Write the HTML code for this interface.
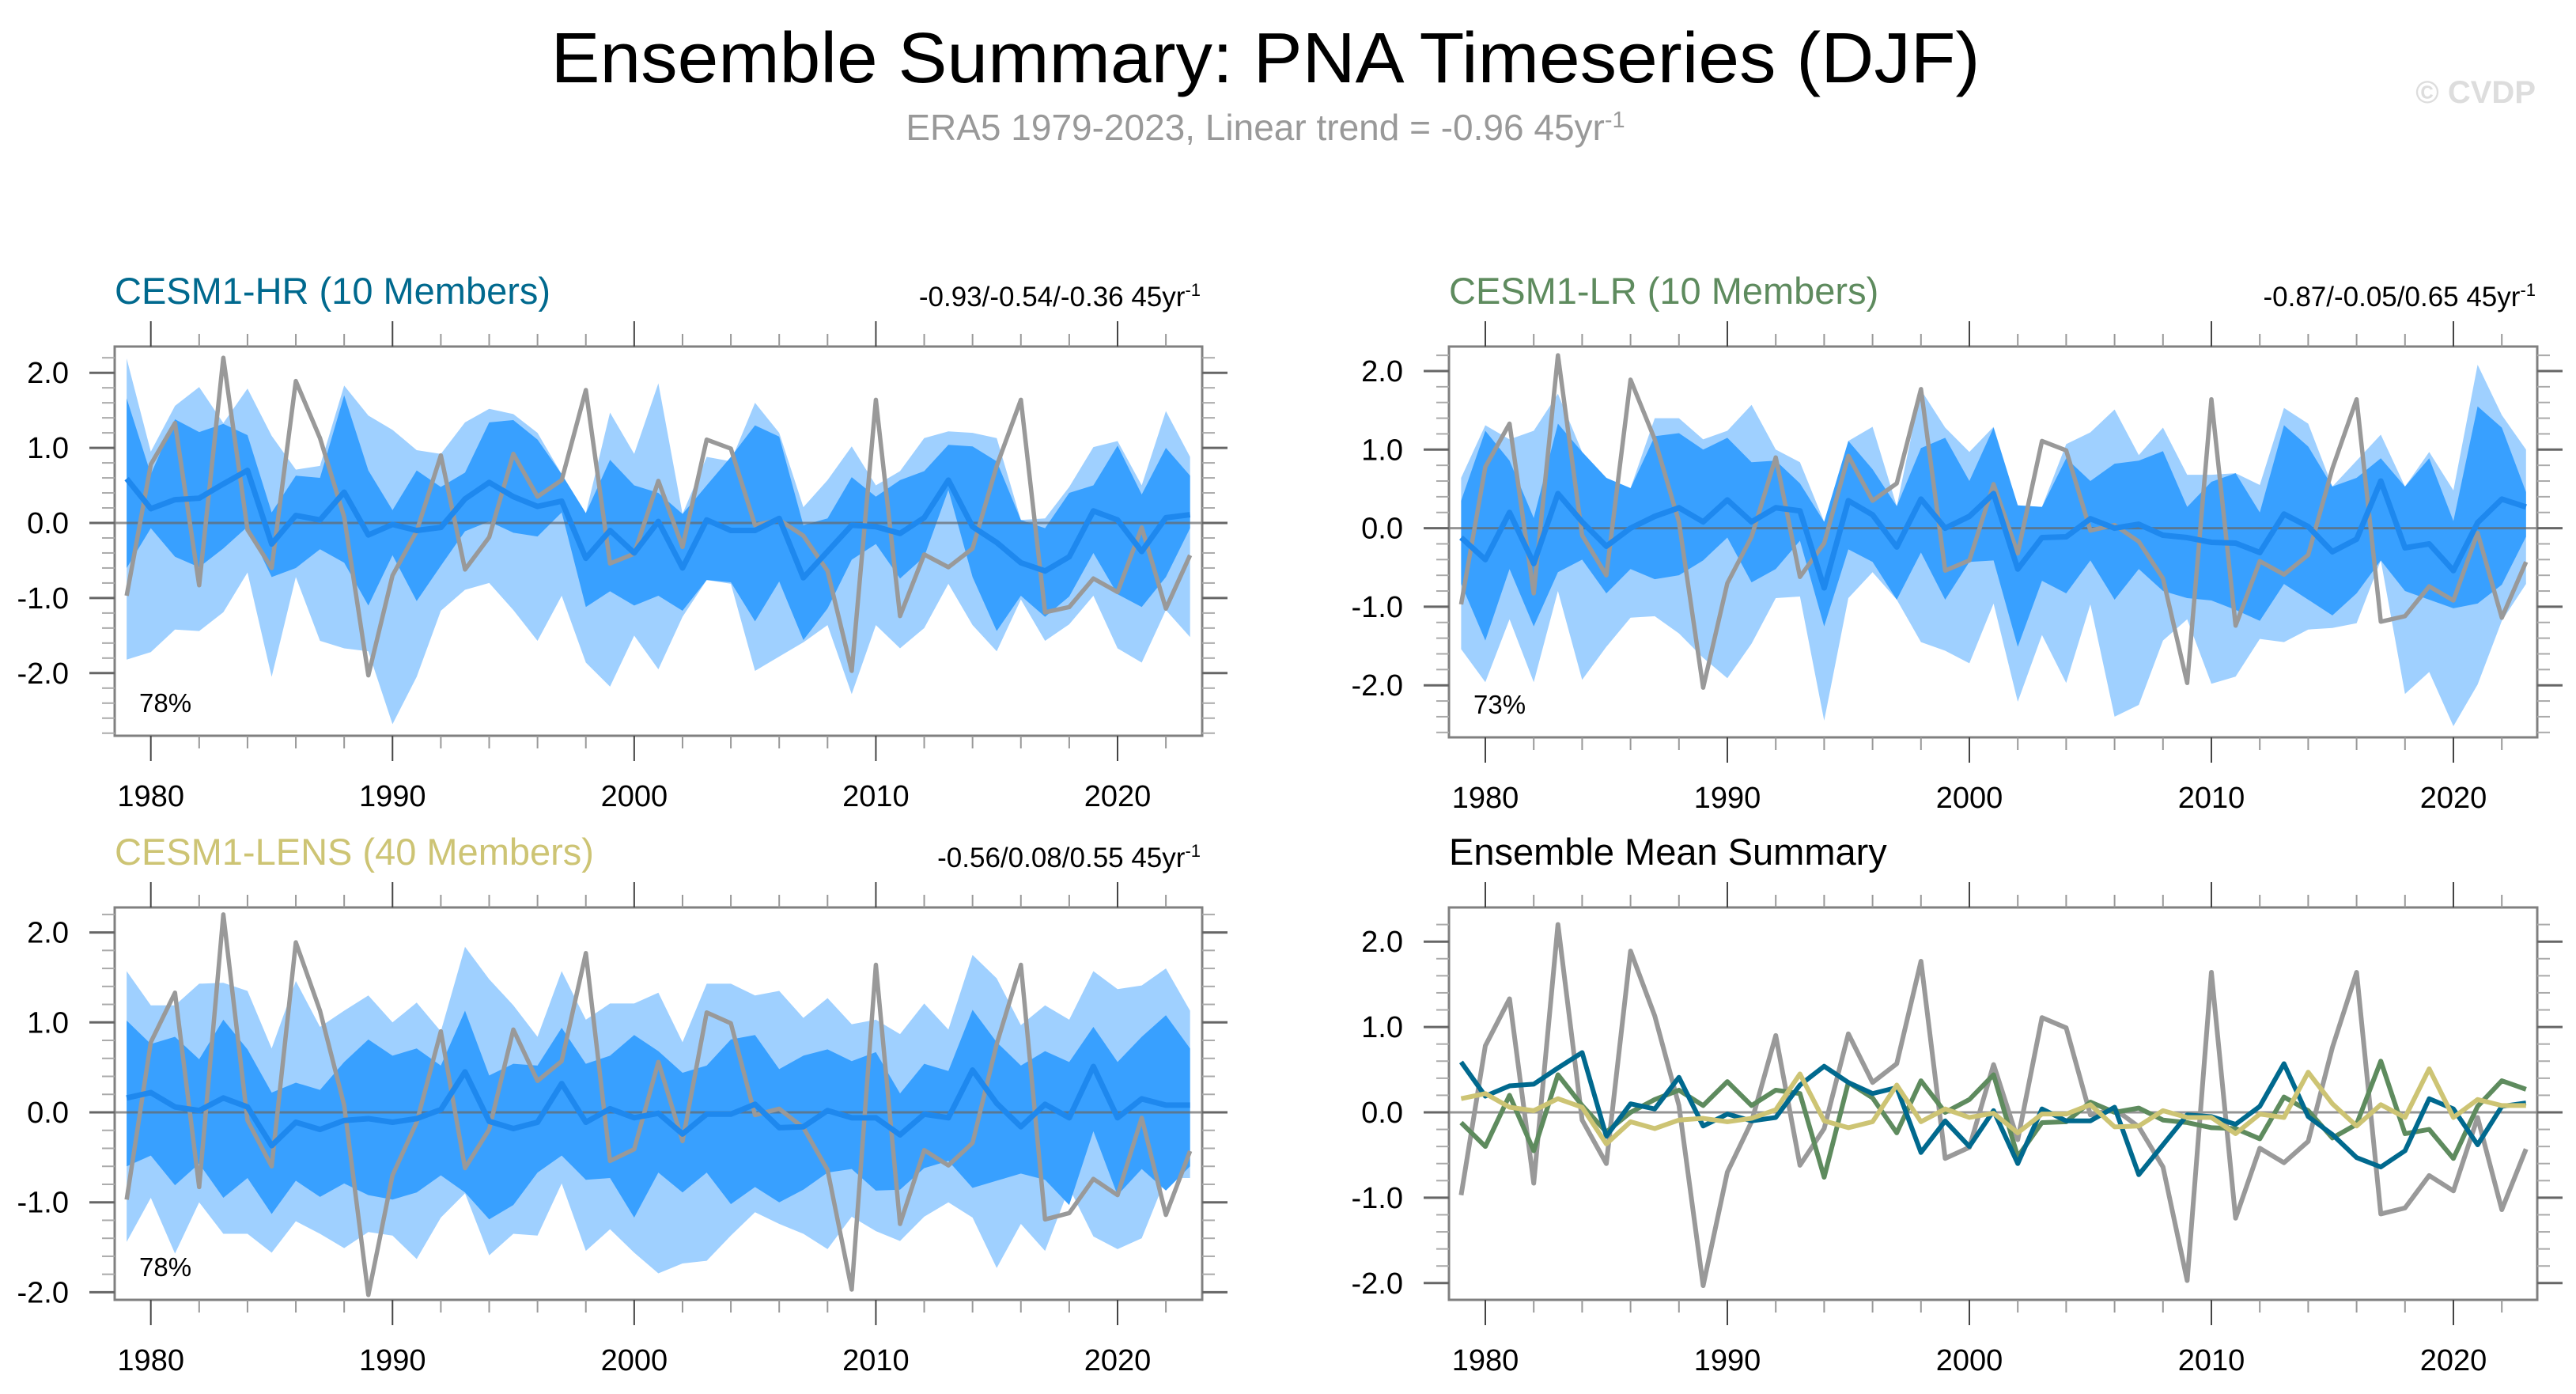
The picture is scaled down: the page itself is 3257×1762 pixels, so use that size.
<!DOCTYPE html>
<html><head><meta charset="utf-8"><style>
html,body{margin:0;padding:0;background:#fff;}
svg{display:block;font-family:"Liberation Sans",Arial,sans-serif;}
</style></head><body>
<svg id="chart" width="3257" height="1762" viewBox="0 0 3257 1762" xmlns="http://www.w3.org/2000/svg">
<rect width="3257" height="1762" fill="#fff"/>
<text x="1600" y="104" font-size="90" text-anchor="middle" textLength="1807" lengthAdjust="spacingAndGlyphs" fill="#000">Ensemble Summary: PNA Timeseries (DJF)</text>
<text x="1600" y="177" font-size="46" text-anchor="middle" fill="#999">ERA5 1979-2023, Linear trend = -0.96 45yr<tspan dy="-16" font-size="29">-1</tspan></text>
<text x="3206" y="130" font-size="40" font-weight="bold" text-anchor="end" fill="#ddd">© CVDP</text>
<g id="panels"></g>
</svg>
<script>
const years = [];
for (let y = 1979; y <= 2023; y++) years.push(y);
const era5 = [-0.97,0.78,1.33,-0.83,2.20,-0.09,-0.60,1.89,1.13,0.08,-2.03,-0.70,-0.11,0.90,-0.62,-0.19,0.92,0.35,0.57,1.77,-0.54,-0.41,0.56,-0.32,1.11,0.99,-0.03,0.04,-0.17,-0.64,-1.97,1.64,-1.24,-0.42,-0.59,-0.34,0.76,1.64,-1.19,-1.12,-0.74,-0.92,-0.06,-1.14,-0.43];
const hrMean = [0.59,0.19,0.31,0.33,0.52,0.70,-0.28,0.10,0.04,0.41,-0.16,-0.02,-0.10,-0.06,0.32,0.54,0.35,0.22,0.29,-0.47,-0.10,-0.40,0.02,-0.60,0.04,-0.10,-0.10,0.06,-0.73,-0.38,-0.03,-0.05,-0.14,0.07,0.57,-0.05,-0.26,-0.53,-0.64,-0.45,0.16,0.04,-0.38,0.07,0.11];
const hrDarkHi = [1.66,0.65,1.38,1.21,1.32,1.17,0.14,0.63,0.60,1.70,0.70,0.17,0.70,0.48,0.67,1.34,1.37,1.11,0.65,0.13,0.84,0.50,0.40,0.12,0.50,0.88,1.30,1.15,-0.03,0.06,0.61,0.35,0.57,0.69,1.04,1.02,0.82,0.04,-0.07,0.40,0.50,1.03,0.38,1.00,0.63];
const hrDarkLo = [-0.60,-0.07,-0.45,-0.59,-0.34,-0.05,-0.72,-0.60,-0.35,-0.53,-1.10,-0.43,-1.04,-0.57,-0.11,0.02,-0.13,-0.18,0.14,-1.12,-0.91,-1.10,-0.97,-1.17,-0.76,-0.79,-1.31,-0.78,-1.56,-1.14,-0.49,-0.28,-0.74,-0.45,0.44,-0.72,-1.44,-0.97,-1.25,-0.98,-0.40,-0.95,-1.12,-0.72,-0.07];
const hrLightHi = [2.19,0.95,1.56,1.81,1.33,1.79,1.16,0.71,0.76,1.83,1.43,1.24,0.97,0.92,1.34,1.52,1.45,1.20,0.65,0.13,1.47,0.92,1.86,0.12,0.88,0.82,1.60,1.20,0.21,0.57,1.02,0.50,0.69,1.13,1.22,1.20,1.13,0.04,0.06,0.48,1.01,1.09,0.50,1.49,0.88];
const hrLightLo = [-1.82,-1.72,-1.42,-1.44,-1.19,-0.66,-2.05,-0.72,-1.57,-1.67,-1.71,-2.68,-2.05,-1.17,-0.89,-0.80,-1.16,-1.57,-0.97,-1.86,-2.18,-1.50,-1.95,-1.25,-0.76,-0.81,-1.97,-1.78,-1.59,-1.36,-2.28,-1.36,-1.67,-1.40,-0.81,-1.36,-1.71,-1.02,-1.57,-1.35,-0.97,-1.67,-1.86,-1.16,-1.52];
const lrMean = [-0.12,-0.40,0.20,-0.45,0.44,0.08,-0.23,0.00,0.15,0.26,0.08,0.36,0.08,0.26,0.22,-0.76,0.35,0.17,-0.24,0.37,0.00,0.15,0.44,-0.52,-0.12,-0.11,0.12,0.00,0.05,-0.09,-0.12,-0.18,-0.19,-0.31,0.18,0.02,-0.30,-0.14,0.60,-0.25,-0.20,-0.54,0.07,0.37,0.27];
const lrDarkHi = [0.35,1.24,0.86,0.13,1.33,0.97,0.64,0.51,1.17,1.21,1.00,1.15,0.84,0.86,0.57,0.08,1.11,0.75,0.28,1.02,1.15,0.60,1.28,0.29,0.27,0.89,0.60,0.82,0.86,0.98,0.27,0.59,0.70,0.20,1.31,1.04,0.53,0.64,0.89,0.53,0.89,0.09,1.55,1.28,0.46];
const lrDarkLo = [-0.71,-1.43,-0.52,-1.25,-0.56,-0.40,-0.83,-0.52,-0.65,-0.60,-0.41,-0.12,-0.69,-0.52,-0.16,-1.25,-0.27,-0.43,-0.91,-0.31,-0.91,-0.43,-0.41,-1.51,-0.67,-0.83,-0.41,-0.91,-0.52,-0.80,-0.89,-0.92,-1.04,-1.18,-0.71,-0.91,-1.11,-0.83,-0.41,-0.80,-0.91,-1.02,-0.96,-0.72,-0.11];
const lrLightHi = [0.64,1.31,1.13,1.24,1.71,0.97,0.64,0.51,1.40,1.40,1.13,1.24,1.57,1.00,0.84,0.08,1.11,1.29,0.28,1.76,1.28,0.97,1.29,0.29,0.27,1.07,1.22,1.51,0.93,1.28,0.68,0.68,0.70,0.55,1.53,1.33,0.53,0.86,1.19,0.53,0.97,0.48,2.08,1.44,1.00];
const lrLightLo = [-1.54,-1.96,-1.16,-1.96,-0.80,-1.93,-1.51,-1.14,-1.12,-1.34,-1.65,-1.91,-1.47,-0.89,-0.87,-2.45,-0.89,-0.56,-0.91,-1.45,-1.56,-1.72,-0.96,-2.21,-1.36,-1.97,-0.97,-2.40,-2.25,-1.43,-1.16,-1.98,-1.89,-1.41,-1.45,-1.29,-1.27,-1.21,-0.41,-2.11,-1.83,-2.52,-1.99,-1.18,-0.71];
const lensMean = [0.16,0.22,0.06,0.02,0.16,0.06,-0.37,-0.11,-0.19,-0.09,-0.07,-0.11,-0.07,0.03,0.45,-0.10,-0.18,-0.11,0.32,-0.11,0.04,-0.06,-0.01,-0.24,-0.02,-0.02,0.09,-0.17,-0.16,0.02,-0.06,-0.06,-0.25,-0.02,-0.06,0.47,0.10,-0.16,0.09,-0.06,0.51,-0.06,0.15,0.08,0.08];
const lensDarkHi = [1.02,0.76,0.84,0.59,1.03,0.70,0.22,0.33,0.25,0.56,0.81,0.63,0.71,0.52,1.13,0.41,0.54,0.52,0.94,0.54,0.63,0.86,0.68,0.44,0.52,0.81,0.86,0.48,0.63,0.70,0.57,0.67,0.21,0.54,0.46,1.14,0.78,0.52,0.68,0.56,0.95,0.56,0.84,1.08,0.71];
const lensDarkLo = [-0.60,-0.48,-0.81,-0.57,-0.95,-0.73,-1.13,-0.76,-0.94,-0.79,-0.92,-0.97,-0.89,-0.70,-0.89,-1.19,-1.03,-0.67,-0.48,-0.75,-0.73,-1.17,-0.67,-0.89,-0.67,-1.02,-0.83,-1.00,-0.86,-0.67,-0.63,-0.87,-0.86,-0.62,-0.54,-0.84,-0.76,-0.68,-0.75,-1.03,-0.21,-0.92,-0.63,-0.87,-0.60];
const lensLightHi = [1.57,1.19,1.19,1.43,1.44,1.35,0.71,1.46,0.95,1.13,1.30,1.00,1.22,0.90,1.84,1.48,1.19,0.84,1.57,1.03,1.21,1.21,1.33,0.78,1.43,1.43,1.30,1.35,1.05,1.27,0.98,1.03,0.87,1.21,0.92,1.75,1.49,0.97,1.19,1.03,1.57,1.37,1.41,1.60,1.13];
const lensLightLo = [-1.44,-0.95,-1.57,-1.00,-1.35,-1.35,-1.56,-1.21,-1.35,-1.51,-1.33,-1.37,-1.63,-1.17,-0.90,-1.59,-1.35,-1.37,-0.79,-1.54,-1.30,-1.56,-1.79,-1.68,-1.65,-1.37,-1.11,-1.24,-1.35,-1.52,-1.16,-1.32,-1.43,-1.16,-1.00,-1.17,-1.73,-1.24,-1.54,-0.84,-1.38,-1.52,-1.40,-0.73,-0.73];
const xTickLabels = ["1980","1990","2000","2010","2020"];
const yTickLabels = ["2.0","1.0","0.0","-1.0","-2.0"];

const NS = "http://www.w3.org/2000/svg";
const root = document.getElementById("panels");
function mk(tag, attrs, parent) {
  const e = document.createElementNS(NS, tag);
  for (const k in attrs) e.setAttribute(k, attrs[k]);
  (parent || root).appendChild(e);
  return e;
}
const panelDefs = [
  {key:"hr", bx0:145, bx1:1520, by0:438, by1:930, x1980:190.7, x2020:1413, y0:661, unit:94.9,
   title:"CESM1-HR (10 Members)", color:"#00698e", trend:"-0.93/-0.54/-0.36 45yr", pct:"78%",
   bands:[hrLightLo,hrLightHi,hrDarkLo,hrDarkHi], mean:hrMean},
  {key:"lr", bx0:1832, bx1:3208, by0:438, by1:932, x1980:1878, x2020:3102, y0:667.6, unit:99.3,
   title:"CESM1-LR (10 Members)", color:"#5e8b5e", trend:"-0.87/-0.05/0.65 45yr", pct:"73%",
   bands:[lrLightLo,lrLightHi,lrDarkLo,lrDarkHi], mean:lrMean},
  {key:"lens", bx0:145, bx1:1520, by0:1147, by1:1643, x1980:190.7, x2020:1413, y0:1406, unit:113.7,
   title:"CESM1-LENS (40 Members)", color:"#cdc474", trend:"-0.56/0.08/0.55 45yr", pct:"78%",
   bands:[lensLightLo,lensLightHi,lensDarkLo,lensDarkHi], mean:lensMean},
  {key:"summary", bx0:1832, bx1:3208, by0:1147, by1:1643, x1980:1878, x2020:3102, y0:1406, unit:107.9,
   title:"Ensemble Mean Summary", color:"#000", trend:null, pct:null, bands:null, mean:null}
];

panelDefs.forEach(p => {
  const g = mk("g", {});
  
  
  const xs = yr => p.x1980 + (yr - 1980) * (p.x2020 - p.x1980) / 40;
  const ys = v => p.y0 - v * p.unit;
  const clipId = "clip-" + p.key;
  const cp = mk("clipPath", {id: clipId}, g);
  mk("rect", {x:p.bx0, y:p.by0, width:p.bx1-p.bx0, height:p.by1-p.by0}, cp);
  const plot = mk("g", {"clip-path":"url(#"+clipId+")"}, g);

  const t = mk("text", {x:p.bx0, y:p.by0-54, "font-size":47, fill:p.color}, g);
  
  
  t.textContent = p.title;
  if (p.trend) {
    const tr = mk("text", {x:p.bx1-2, y:p.by0-51, "font-size":35, "text-anchor":"end", fill:"#000"}, g);
    
    
    tr.textContent = p.trend;
    const sup = mk("tspan", {dy:-13, "font-size":22}, tr);
    sup.textContent = "-1";
  }
  const poly = (lo, hi) => {
    const pts = [];
    years.forEach((y,i) => pts.push(xs(y)+","+ys(hi[i])));
    for (let i = years.length-1; i >= 0; i--) pts.push(xs(years[i])+","+ys(lo[i]));
    return pts.join(" ");
  };
  const line = arr => years.map((y,i) => xs(y)+","+ys(arr[i])).join(" ");
  if (p.bands) {
    const lb = mk("polygon", {points:poly(p.bands[0],p.bands[1]), fill:"#9fd0ff"}, plot);
    
    
    const db = mk("polygon", {points:poly(p.bands[2],p.bands[3]), fill:"#38a0ff"}, plot);
    
    
  }
  const zl = mk("line", {x1:p.bx0, x2:p.bx1, y1:ys(0), y2:ys(0), stroke:"#666", "stroke-width":3, "stroke-opacity":0.7}, plot);
  
  
  if (p.bands) {
    const ol = mk("polyline", {points:line(era5), fill:"none", stroke:"#999", "stroke-width":5.5, "stroke-linejoin":"round"}, plot);
    
    
    const ml = mk("polyline", {points:line(p.mean), fill:"none", stroke:"#1e88ee", "stroke-width":7, "stroke-linejoin":"round"}, plot);
    
    
  } else {
    const series = [[era5,"#999","era5-line"],[lrMean,"#5e8b5e","cesm1-lr-mean-line"],[hrMean,"#00698e","cesm1-hr-mean-line"],[lensMean,"#cdc474","cesm1-lens-mean-line"]];
    series.forEach(s => {
      const l = mk("polyline", {points:line(s[0]), fill:"none", stroke:s[1], "stroke-width":6, "stroke-linejoin":"round"}, plot);
      
      
    });
  }
  if (p.pct) {
    const pc = mk("text", {x:p.bx0+31, y:p.by1-30, "font-size":33, fill:"#000"}, g);
    
    
    pc.textContent = p.pct;
  }
  const fr = mk("rect", {x:p.bx0, y:p.by0, width:p.bx1-p.bx0, height:p.by1-p.by0, fill:"none", stroke:"#808080", "stroke-width":3}, g);
  
  
  for (let yr = 1980; yr <= 2022; yr += 2) {
    const X = xs(yr), major = yr % 10 === 0;
    const len = major ? 32 : 16, col = major ? "#444" : "#999";
    mk("line", {x1:X, x2:X, y1:p.by1, y2:p.by1+len, stroke:col, "stroke-width":2}, g);
    mk("line", {x1:X, x2:X, y1:p.by0, y2:p.by0-len, stroke:col, "stroke-width":2}, g);
  }
  xTickLabels.forEach(lbl => {
    const xl = mk("text", {x:xs(+lbl), y:p.by1+89, "font-size":38, "text-anchor":"middle", fill:"#000"}, g);
    
    
    xl.textContent = lbl;
  });
  for (let k = -40; k <= 40; k += 2) {
    const v = k / 10, Y = ys(v);
    if (Y < p.by0 + 2 || Y > p.by1 - 2) continue;
    const major = k % 10 === 0;
    const len = major ? 32 : 16, col = major ? "#666" : "#aaa";
    mk("line", {x1:p.bx0, x2:p.bx0-len, y1:Y, y2:Y, stroke:col, "stroke-width":major?3:2}, g);
    mk("line", {x1:p.bx1, x2:p.bx1+len, y1:Y, y2:Y, stroke:col, "stroke-width":major?3:2}, g);
  }
  yTickLabels.forEach(lbl => {
    const yl = mk("text", {x:p.bx0-58, y:ys(+lbl)+13, "font-size":38, "text-anchor":"end", fill:"#000"}, g);
    
    
    yl.textContent = lbl;
  });
});
</script>
</body></html>
